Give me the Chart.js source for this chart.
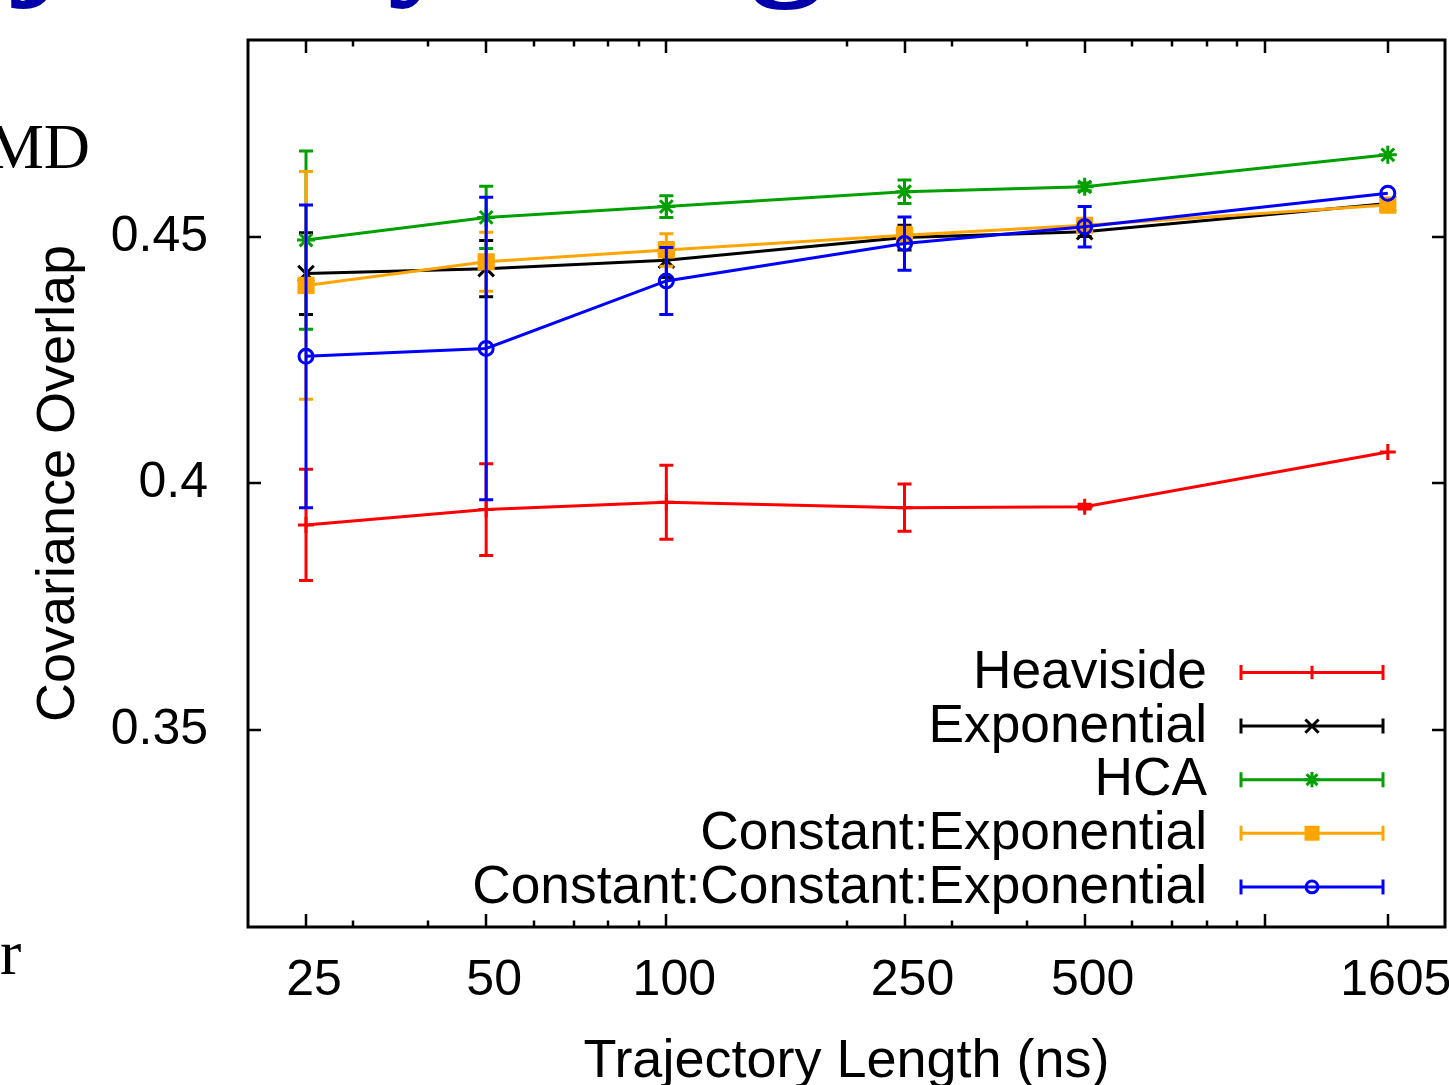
<!DOCTYPE html>
<html>
<head>
<meta charset="utf-8">
<title>Covariance Overlap vs Trajectory Length</title>
<script src="https://cdn.jsdelivr.net/npm/chart.js@4.4.1/dist/chart.umd.min.js"></script>
<style>
  html, body { margin: 0; padding: 0; background: #fff; overflow: hidden; }
  #wrap { position: relative; width: 1449px; height: 1085px; overflow: hidden; background: #fff; }
  #plot { position: absolute; left: 0; top: 0; }
  .frag { position: absolute; white-space: nowrap; line-height: 1; }
  #slideTitle { left: -218px; top: -160px; font: bold 150px "Liberation Serif", "Times New Roman", serif; color: #0000aa; }
  #sideA { right: 1359px; top: 110px; font: 64px "Liberation Serif", "Times New Roman", serif; color: #000; }
  #sideB { left: 0px; top: 916px; font: 64px "Liberation Serif", "Times New Roman", serif; color: #000; }
</style>
</head>
<body>
<div id="wrap">
  <div class="frag" id="slideTitle">Trajectory Length</div>
  <div class="frag" id="sideA">MD</div>
  <div class="frag" id="sideB">r</div>
  <canvas id="plot" width="1459" height="1100" style="width:1459px;height:1100px"></canvas>
</div>
<script>
// Trajectory lengths (ns)
const lengths = [25, 50, 100, 250, 500, 1605];

// Series means and error half-widths
const heaviside      = [0.3916, 0.3947, 0.3962, 0.3951, 0.3953, 0.4064];
const heavisideErr   = [0.0113, 0.0093, 0.0075, 0.0048, 0.0005, 0.0000];
const exponential    = [0.4426, 0.4436, 0.4453, 0.4499, 0.4511, 0.4568];
const exponentialErr = [0.0083, 0.0057, 0.0035, 0.0025, 0.0010, 0.0000];
const hca            = [0.4494, 0.4540, 0.4562, 0.4592, 0.4602, 0.4667];
const hcaErr         = [0.0181, 0.0063, 0.0022, 0.0024, 0.0008, 0.0000];
const constExp       = [0.4402, 0.4450, 0.4474, 0.4504, 0.4524, 0.4565];
const constExpErr    = [0.0231, 0.0060, 0.0033, 0.0016, 0.0010, 0.0000];
const constConstExp    = [0.4258, 0.4274, 0.4411, 0.4487, 0.4521, 0.4589];
const constConstExpErr = [0.0307, 0.0307, 0.0068, 0.0054, 0.0041, 0.0000];

// Axis ticks
const xTickLabels = [25, 50, 100, 250, 500, 1605];
const xMajorTicks = [25, 50, 100, 250, 500, 1000, 1605];
const xMinorTicks = [30, 40, 60, 70, 80, 90, 200, 300, 400, 600, 700, 800, 900];
const yTickLabels = [0.35, 0.4, 0.45];

const FONT = '"Liberation Sans", Arial, Helvetica, sans-serif';
const TICK_SIZE = 50;
const TEXT_SIZE = 54;
const KEY_SIZE = 53.3;

function series(label, vals, errs, color, style, radius, fill, order) {
  return {
    label,
    data: lengths.map((x, i) => ({ x, y: vals[i] })),
    errors: errs,
    borderColor: color,
    backgroundColor: color,
    borderWidth: 3,
    pointStyle: style,
    pointRadius: radius,
    pointHoverRadius: radius,
    pointBorderColor: color,
    pointBackgroundColor: fill,
    pointBorderWidth: 3,
    tension: 0,
    fill: false,
    order
  };
}

const datasets = [
  series('Heaviside', heaviside, heavisideErr, '#ff0000', 'cross', 8, '#ff0000', 5),
  series('Exponential', exponential, exponentialErr, '#000000', 'crossRot', 11, '#000000', 4),
  series('HCA', hca, hcaErr, '#00a000', 'star', 9, '#00a000', 3),
  series('Constant:Exponential', constExp, constExpErr, '#ffa500', 'rect', 10, '#ffa500', 2),
  series('Constant:Constant:Exponential', constConstExp, constConstExpErr, '#0000ff', 'circle', 7, 'rgba(0,0,0,0)', 1)
];

const CAP = 7;

// Vertical error bars with caps, drawn beneath each series' own line
const errorBars = {
  id: 'errorBars',
  beforeDatasetDraw(chart, args) {
    const ds = chart.data.datasets[args.index];
    const { ctx, chartArea: a } = chart;
    const ys = chart.scales.y;
    ctx.save();
    ctx.beginPath();
    ctx.rect(a.left, a.top, a.width, a.height);
    ctx.clip();
    ctx.strokeStyle = ds.borderColor;
    ctx.lineWidth = 3;
    ctx.beginPath();
    args.meta.data.forEach((pt, i) => {
      const v = ds.data[i].y;
      const e = ds.errors[i];
      if (!e) return;
      const yt = ys.getPixelForValue(v + e);
      const yb = ys.getPixelForValue(v - e);
      ctx.moveTo(pt.x, yt); ctx.lineTo(pt.x, yb);
      ctx.moveTo(pt.x - CAP, yt); ctx.lineTo(pt.x + CAP, yt);
      ctx.moveTo(pt.x - CAP, yb); ctx.lineTo(pt.x + CAP, yb);
    });
    ctx.stroke();
    ctx.restore();
  }
};

// Plot border with inward tick marks on all four sides
const frame = {
  id: 'frame',
  afterDatasetsDraw(chart) {
    const { ctx, chartArea: a, scales: { x, y } } = chart;
    ctx.save();
    ctx.strokeStyle = '#000';
    ctx.lineWidth = 2.5;
    ctx.beginPath();
    const vtick = (v, len) => {
      const px = Math.round(x.getPixelForValue(v));
      ctx.moveTo(px, a.bottom); ctx.lineTo(px, a.bottom - len);
      ctx.moveTo(px, a.top); ctx.lineTo(px, a.top + len);
    };
    xMajorTicks.forEach(v => vtick(v, 13));
    xMinorTicks.forEach(v => vtick(v, 6.5));
    yTickLabels.forEach(v => {
      const py = Math.round(y.getPixelForValue(v));
      ctx.moveTo(a.left, py); ctx.lineTo(a.left + 13, py);
      ctx.moveTo(a.right, py); ctx.lineTo(a.right - 13, py);
    });
    ctx.stroke();
    ctx.lineWidth = 3;
    ctx.strokeRect(a.left, a.top, a.width, a.height);
    ctx.restore();
  }
};

// Key in the lower right: label text followed by a sample with error caps
const key = {
  id: 'key',
  afterDraw(chart) {
    const { ctx } = chart;
    const textRight = 1207, x0 = 1241, x1 = 1383, xm = 1312;
    const rowTop = 672.5, rowStep = 53.6;
    ctx.save();
    ctx.font = KEY_SIZE + 'px ' + FONT;
    ctx.textAlign = 'right';
    ctx.textBaseline = 'middle';
    chart.data.datasets.forEach((ds, i) => {
      const yy = rowTop + i * rowStep;
      ctx.fillStyle = '#000';
      ctx.fillText(ds.label, textRight, yy + 1);
      ctx.strokeStyle = ds.borderColor;
      ctx.lineWidth = 3;
      ctx.beginPath();
      ctx.moveTo(x0, yy); ctx.lineTo(x1, yy);
      ctx.moveTo(x0, yy - 7.5); ctx.lineTo(x0, yy + 7.5);
      ctx.moveTo(x1, yy - 7.5); ctx.lineTo(x1, yy + 7.5);
      ctx.stroke();
      ctx.fillStyle = ds.pointBackgroundColor;
      ctx.lineWidth = 3;
      Chart.helpers.drawPoint(ctx, {
        pointStyle: ds.pointStyle,
        radius: ds.pointRadius * 0.85,
        rotation: 0,
        borderWidth: 3
      }, xm, yy);
    });
    ctx.restore();
  }
};

// Keep the plot frame at fixed pixel edges: no extra room for label overhang
function noOverhang(scale) {
  scale.paddingTop = 0;
  scale.paddingBottom = 0;
  scale.paddingLeft = 0;
  scale.paddingRight = 0;
}

Chart.defaults.font.family = FONT;
Chart.defaults.font.size = TICK_SIZE;
Chart.defaults.color = '#000';

new Chart(document.getElementById('plot'), {
  type: 'line',
  data: { datasets },
  plugins: [errorBars, frame, key],
  options: {
    responsive: false,
    animation: false,
    events: [],
    layout: { padding: { top: 40, right: 3, bottom: 0, left: 0 } },
    plugins: { legend: { display: false }, tooltip: { enabled: false } },
    scales: {
      x: {
        type: 'logarithmic',
        min: 20,
        max: 2000,
        grid: { display: false, drawTicks: false },
        border: { display: false },
        afterBuildTicks(scale) { scale.ticks = xTickLabels.map(v => ({ value: v })); },
        afterFit(scale) { scale.height = 1100 - 927; noOverhang(scale); },
        ticks: {
          autoSkip: false,
          maxRotation: 0,
          minRotation: 0,
          padding: 24,
          labelOffset: 8,
          font: { size: TICK_SIZE },
          callback: (v) => String(v)
        },
        title: {
          display: true,
          text: 'Trajectory Length (ns)',
          font: { size: TEXT_SIZE },
          padding: { top: 0, bottom: 5 }
        }
      },
      y: {
        type: 'linear',
        min: 0.31,
        max: 0.49,
        grid: { display: false, drawTicks: false },
        border: { display: false },
        afterBuildTicks(scale) { scale.ticks = yTickLabels.map(v => ({ value: v })); },
        afterFit(scale) { scale.width = 248; noOverhang(scale); },
        ticks: {
          padding: 40,
          font: { size: TICK_SIZE },
          callback: (v) => String(v)
        },
        title: {
          display: true,
          text: 'Covariance Overlap',
          font: { size: TEXT_SIZE },
          padding: { top: 27, bottom: 0 }
        }
      }
    }
  }
});
</script>
</body>
</html>
